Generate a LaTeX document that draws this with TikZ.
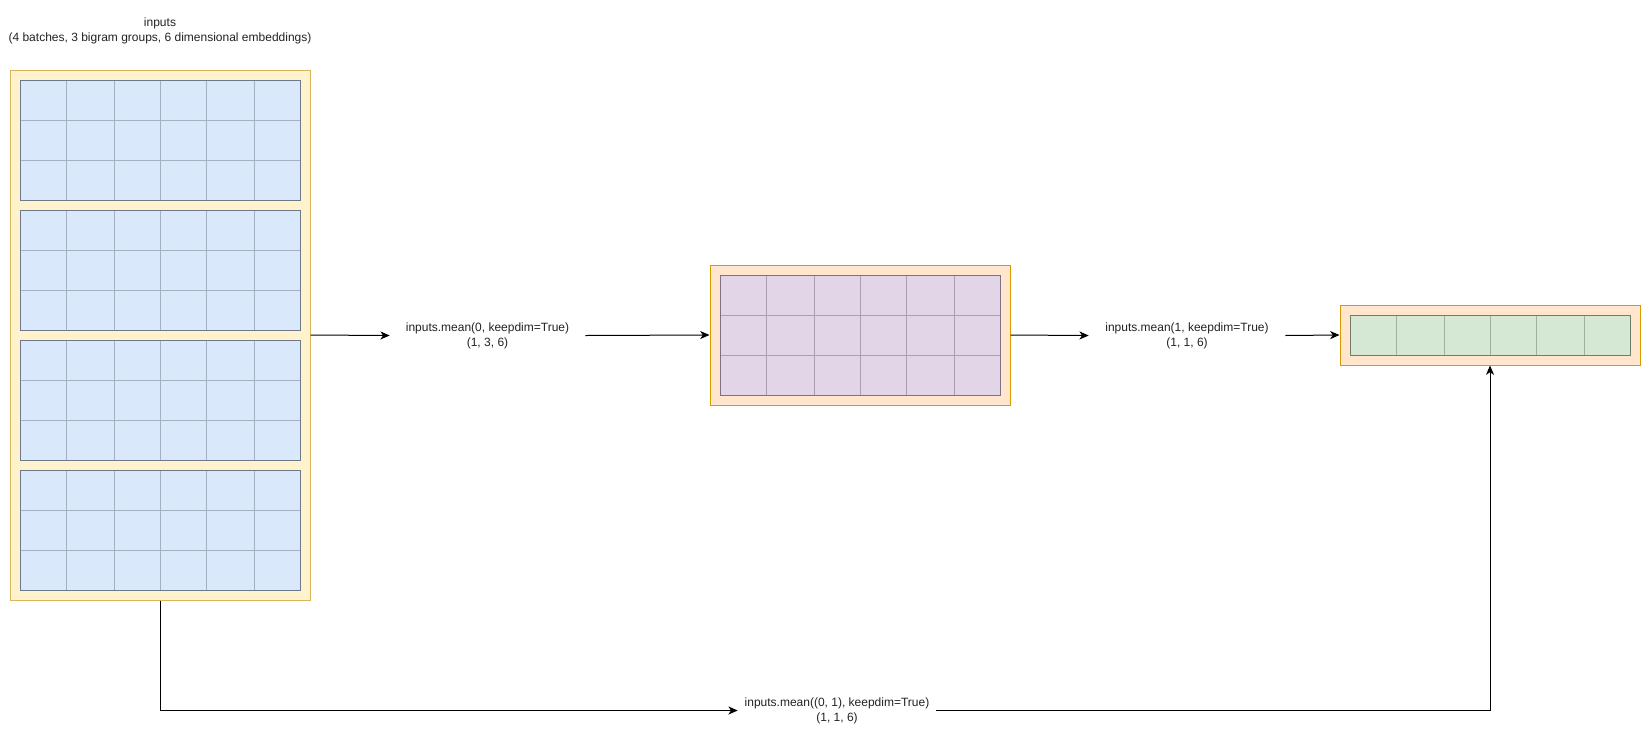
\documentclass[tikz,border=0pt]{standalone}
\usepackage{fontspec}
\setmainfont{Liberation Sans}
\usetikzlibrary{arrows.meta}
\definecolor{yfill}{HTML}{FFF2CC}
\definecolor{ydraw}{HTML}{D6B656}
\definecolor{ofill}{HTML}{FFE6CC}
\definecolor{odraw}{HTML}{D79B00}
\definecolor{bfill}{HTML}{DAE8FC}
\definecolor{binner}{HTML}{A3B0C2}
\definecolor{bouter}{HTML}{6E7888}
\definecolor{pfill}{HTML}{E1D5E7}
\definecolor{pinner}{HTML}{AB9EAF}
\definecolor{pouter}{HTML}{7C7282}
\definecolor{gfill}{HTML}{D5E8D4}
\definecolor{ginner}{HTML}{9FB09E}
\definecolor{gouter}{HTML}{6F7C6F}
\definecolor{txt}{HTML}{222222}
\newcommand\tgrid[7]{%
  \fill[#4] (#1,#2) rectangle ++(280,#3);
  \foreach \c in {46,94,140,186,234} \draw[#5,line width=0.75pt] (#1+\c,#2) -- ++(0,#3);
  \foreach \r in {#7} \draw[#5,line width=0.75pt] (#1,#2+\r) -- ++(280,0);
  \draw[#6,line width=0.75pt] (#1,#2) rectangle ++(280,#3);
}
\tikzset{
  outerbox/.style={rectangle,line width=0.75pt,inner sep=0pt,minimum width=225pt},
  lbl/.style={align=center,inner sep=0pt,text=txt,font=\fontsize{9pt}{11.25pt}\selectfont},
  conn/.style={line width=0.75pt,-{Stealth[length=7pt,width=6pt,inset=2pt]}},
  plain/.style={line width=0.75pt}
}
\begin{document}
\begin{tikzpicture}[x=0.75pt,y=-0.75pt]
\useasboundingbox (0,0) rectangle (1641,740);
% title
\node[lbl] (title) at (160,30.5) {inputs\\(4 batches, 3 bigram groups, 6 dimensional embeddings)};
% outer boxes
\node[outerbox,fill=yfill,draw=ydraw,minimum height=397.5pt] (inp) at (160,335) {};
\node[outerbox,fill=ofill,draw=odraw,minimum height=105pt] (m0) at (860,335) {};
\node[outerbox,fill=ofill,draw=odraw,minimum height=45pt] (m1) at (1490,335) {};
% grids
\tgrid{20}{80}{120}{bfill}{binner}{bouter}{40,80}
\tgrid{20}{210}{120}{bfill}{binner}{bouter}{40,80}
\tgrid{20}{340}{120}{bfill}{binner}{bouter}{40,80}
\tgrid{20}{470}{120}{bfill}{binner}{bouter}{40,80}
\tgrid{720}{275}{120}{pfill}{pinner}{pouter}{40,80}
\tgrid{1350}{315}{40}{gfill}{ginner}{gouter}{0}
% labels
\node[lbl,minimum width=146.25pt] (t1) at (487.5,335.5) {inputs.mean(0, keepdim=True)\\(1, 3, 6)};
\node[lbl,minimum width=147pt] (t2) at (1187,335.5) {inputs.mean(1, keepdim=True)\\(1, 1, 6)};
\node[lbl,minimum width=148.5pt] (t3) at (837,710.5) {inputs.mean((0, 1), keepdim=True)\\(1, 1, 6)};
% connectors
\draw[conn] (inp.east) -- (t1.west);
\draw[conn] (t1.east) -- (m0.west);
\draw[conn] (m0.east) -- (t2.west);
\draw[conn] (t2.east) -- (m1.west);
\draw[conn] (inp.south) |- (t3.west);
\draw[conn] (t3.east) -| (m1.south);
\end{tikzpicture}
\end{document}
